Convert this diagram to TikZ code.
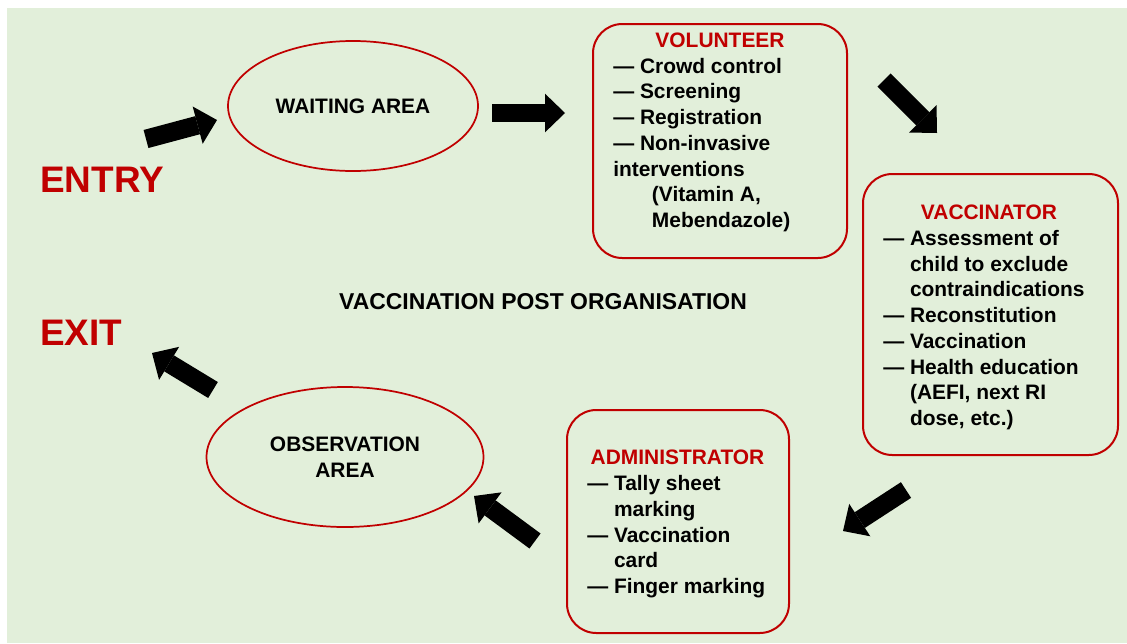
\documentclass[tikz,border=0pt]{standalone}
\usepackage{fontspec}
\setmainfont{Liberation Sans}
\usetikzlibrary{arrows.meta, shapes.geometric}
\definecolor{postred}{HTML}{C00000}
\definecolor{postbg}{HTML}{E2EFDA}

\begin{document}
\begin{tikzpicture}[
    x=0.75pt, y=-0.75pt,
    every node/.style={font=\bfseries\fontsize{15.7}{19.3}\selectfont, inner sep=0pt},
    station/.style={draw=postred, line width=1.5pt, rounded corners=22pt},
    area/.style={ellipse, draw=postred, line width=1.3pt, align=center},
    role/.style={text=postred, anchor=base},
    duties/.style={align=left, anchor=base west},
    gate/.style={text=postred, anchor=base west, font=\bfseries\fontsize{27.7}{33}\selectfont},
    flow/.style={line width=14pt, -{Triangle[length=15pt, width=29pt, line width=0pt]}},
  ]
  \useasboundingbox (0,0) rectangle (1127,643);
  \fill[postbg] (7,8) rectangle (1127,643);

  \node[area, minimum width=187.5pt, minimum height=97.5pt] (wait) at (353,106) {WAITING AREA};
  \node[area, minimum width=207.75pt, minimum height=105pt] (obs) at (345,457) {OBSERVATION\\AREA};

  % duty lists are placed by the baseline of their last line
  \node[station, minimum width=190.5pt, minimum height=175.5pt] (vol) at (720,141) {};
  \node[role] (vol-title) at (720,47.5) {VOLUNTEER};
  \node[duties] (vol-list) at (613,227.5)
    {— Crowd control\\— Screening\\— Registration\\— Non-invasive\\interventions\\
     \hspace*{29pt}(Vitamin A,\\\hspace*{29pt}Mebendazole)};

  \node[station, minimum width=191.25pt, minimum height=210.75pt] (vacc) at (990.5,314.5) {};
  \node[role] (vacc-title) at (989,219.5) {VACCINATOR};
  \node[duties] (vacc-list) at (883,425.5)
    {— Assessment of\\\phantom{— }child to exclude\\\phantom{— }contraindications\\
     — Reconstitution\\— Vaccination\\— Health education\\
     \phantom{— }(AEFI, next RI\\\phantom{— }dose, etc.)};

  \node[station, minimum width=166.5pt, minimum height=167.25pt] (admin) at (678,521.5) {};
  \node[role] (admin-title) at (677.5,464.5) {ADMINISTRATOR};
  \node[duties] (admin-list) at (587,593.5)
    {— Tally sheet\\\phantom{— }marking\\— Vaccination\\\phantom{— }card\\— Finger marking};

  \node[font=\bfseries\fontsize{17.2}{20}\selectfont] (post) at (543,302) {VACCINATION POST ORGANISATION};
  \node[gate] (entry) at (40,192) {ENTRY};
  \node[gate] (exit) at (40,345) {EXIT};

  % flow of the child through the post
  \coordinate (in-a) at (146,139);  \coordinate (in-b) at (217,120);
  \coordinate (wait-a) at (492,113); \coordinate (wait-b) at (565,113);
  \coordinate (vol-a) at (884,80);  \coordinate (vol-b) at (937,133);
  \coordinate (vacc-a) at (906,490); \coordinate (vacc-b) at (843,531);
  \coordinate (admin-a) at (535,541); \coordinate (admin-b) at (474,496);
  \coordinate (obs-a) at (213,390); \coordinate (obs-b) at (152,353);
  \foreach \s in {in, wait, vol, vacc, admin, obs}
    \draw[flow] (\s-a) -- (\s-b);
\end{tikzpicture}
\end{document}
